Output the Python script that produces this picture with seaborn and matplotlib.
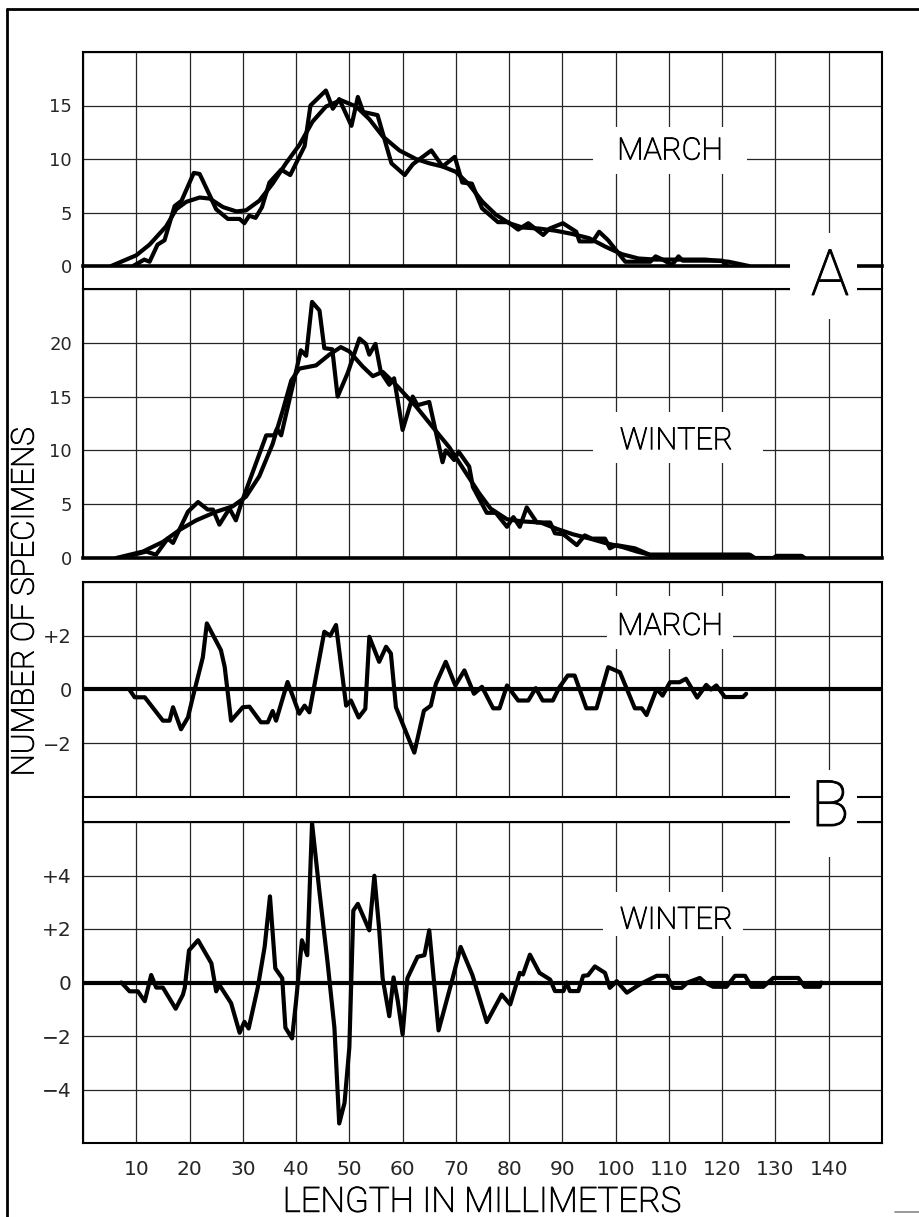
import numpy as np
import matplotlib
matplotlib.use("Agg")
import matplotlib.pyplot as plt
import matplotlib.patheffects as pe
from matplotlib.patches import Rectangle
from matplotlib.lines import Line2D
import seaborn as sns

# ---------------- data ----------------
march_raw_x = [9.4, 11.5, 12.5, 14.0, 15.3, 17.2, 18.5, 20.8, 21.9, 23.8, 25.0, 27.2, 29.4, 30.3, 31.2,
               32.4, 33.6, 35.0, 37.2, 38.9, 41.6, 42.7, 45.6, 46.9, 48.1, 50.4, 51.6, 52.6, 55.3, 57.9,
               60.4, 61.9, 63.5, 65.4, 67.5, 69.8, 71.2, 73.0, 74.9, 77.9, 79.8, 81.7, 83.6, 86.4, 87.6,
               90.1, 92.6, 93.2, 95.7, 96.9, 98.6, 101.8, 106.5, 107.5, 108.8, 110.6, 111.8, 112.6, 120.0, 121.0]
march_raw_y = [0.0, 0.6, 0.4, 2.0, 2.4, 5.6, 6.1, 8.7, 8.6, 6.6, 5.3, 4.4, 4.4, 4.0, 4.7,
               4.5, 5.5, 7.8, 9.0, 8.5, 11.2, 15.0, 16.4, 14.7, 15.6, 13.1, 15.8, 14.4, 14.1, 9.6,
               8.5, 9.5, 10.1, 10.8, 9.3, 10.2, 7.8, 7.7, 5.4, 4.1, 4.1, 3.4, 4.0, 2.9, 3.5,
               4.0, 3.2, 2.3, 2.3, 3.2, 2.4, 0.4, 0.4, 0.9, 0.6, 0.1, 0.9, 0.5, 0.5, 0.0]

march_fit_x = [5.3, 10.0, 12.5, 15.6, 17.5, 19.4, 21.9, 23.8, 26.3, 28.8, 30.6, 33.1, 35.6, 38.1, 40.6,
               43.1, 45.6, 48.4, 51.3, 53.8, 56.3, 59.4, 62.5, 65.0, 67.5, 70.0, 72.5, 75.0, 77.5, 80.0,
               82.5, 85.6, 88.7, 91.8, 95.0, 98.1, 101.2, 104.3, 107.5, 110.6, 116.8, 121.2, 125.0]
march_fit_y = [0.0, 1.0, 2.0, 3.7, 5.3, 6.0, 6.4, 6.3, 5.5, 5.1, 5.2, 6.1, 7.7, 9.6, 11.3,
               13.5, 14.9, 15.5, 14.9, 13.7, 12.1, 10.8, 10.0, 9.6, 9.3, 8.8, 7.6, 6.0, 4.8, 4.0,
               3.6, 3.5, 3.3, 3.0, 2.6, 1.8, 1.1, 0.7, 0.6, 0.6, 0.6, 0.4, 0.0]

winter_raw_x = [7.0, 11.9, 13.7, 15.9, 16.9, 19.7, 21.6, 23.4, 24.4, 25.6, 27.5, 28.7, 29.8, 34.4, 35.9,
                36.4, 37.2, 39.7, 40.9, 41.9, 43.0, 44.4, 45.3, 46.8, 47.8, 49.7, 51.9, 53.1, 53.75, 54.9,
                55.9, 57.5, 58.4, 60.0, 61.9, 62.8, 65.0, 67.5, 68.1, 69.7, 70.5, 72.5, 73.2, 75.8, 77.5,
                79.6, 80.8, 82.0, 83.3, 85.2, 87.7, 88.6, 90.2, 92.7, 94.2, 95.5, 98.0, 98.9, 100.1, 103.6,
                106.4, 125.2, 126.1, 129.6, 130.2, 134.9, 135.5]
winter_raw_y = [0.0, 0.6, 0.3, 1.8, 1.4, 4.3, 5.2, 4.5, 4.5, 3.1, 4.6, 3.5, 5.2, 11.4, 11.4,
                12.0, 11.4, 16.7, 19.3, 18.8, 23.8, 23.0, 19.5, 19.4, 15.0, 17.2, 20.4, 19.9, 18.9, 19.9,
                17.3, 16.1, 16.7, 11.9, 15.0, 14.2, 14.5, 8.9, 10.0, 9.1, 9.9, 8.5, 6.6, 4.2, 4.2,
                2.9, 3.8, 2.9, 4.7, 3.3, 3.3, 2.3, 2.2, 1.2, 2.1, 1.8, 1.8, 0.9, 1.2, 0.9,
                0.3, 0.3, 0.0, 0.0, 0.2, 0.2, 0.0]

winter_fit_x = [6.25, 11.25, 15.0, 18.1, 21.25, 25.0, 28.1, 30.6, 33.1, 35.6, 37.5, 39.1, 40.6, 43.75, 46.25,
                48.4, 50.0, 52.5, 54.4, 56.25, 58.75, 62.5, 65.6, 68.75, 71.9, 74.4, 76.5, 79.6, 82.5, 85.9,
                89.0, 92.0, 95.2, 98.0, 101.4, 104.0, 106.4, 125.0, 126.0]
winter_fit_y = [0.0, 0.6, 1.5, 2.6, 3.5, 4.3, 4.8, 5.7, 7.6, 10.6, 13.7, 16.5, 17.6, 17.9, 18.9,
                19.6, 19.2, 17.8, 16.9, 17.3, 16.1, 14.1, 12.2, 10.3, 7.9, 6.0, 4.6, 3.6, 3.4, 3.3,
                2.7, 2.2, 1.8, 1.4, 1.0, 0.6, 0.3, 0.3, 0.0]

march_dev_x = [8.7, 9.7, 11.6, 15.0, 16.25, 16.9, 18.4, 19.7, 20.6, 22.5, 23.25, 25.9, 26.6, 27.8, 30.0,
               31.25, 33.4, 34.7, 35.6, 36.25, 38.4, 40.6, 41.6, 42.5, 45.3, 46.4, 47.5, 49.4, 50.3, 51.75,
               53.0, 53.75, 55.6, 56.9, 57.8, 58.75, 62.2, 64.0, 65.3, 66.25, 68.1, 69.9, 71.6, 73.4, 74.9,
               77.0, 78.2, 79.6, 81.7, 83.6, 85.0, 86.3, 88.2, 89.4, 91.0, 92.3, 94.5, 96.4, 98.6, 100.8,
               103.6, 104.9, 105.8, 107.7, 108.8, 110.2, 112.0, 113.2, 115.3, 117.0, 117.9, 118.9, 120.5, 123.9, 124.5]
march_dev_y = [0.0, -0.29, -0.29, -1.16, -1.16, -0.66, -1.48, -1.04, -0.3, 1.2, 2.46, 1.46, 0.84, -1.16, -0.66,
               -0.64, -1.22, -1.22, -0.8, -1.16, 0.28, -0.9, -0.6, -0.85, 2.15, 2.0, 2.4, -0.6, -0.41, -1.04,
               -0.72, 1.96, 1.03, 1.59, 1.34, -0.66, -2.35, -0.79, -0.6, 0.21, 1.03, 0.15, 0.71, -0.16, 0.1,
               -0.7, -0.7, 0.15, -0.41, -0.41, 0.05, -0.41, -0.41, 0.07, 0.52, 0.52, -0.7, -0.7, 0.83, 0.64,
               -0.7, -0.7, -0.95, 0.02, -0.23, 0.27, 0.27, 0.4, -0.3, 0.17, 0.0, 0.15, -0.28, -0.28, -0.16]

winter_dev_x = [7.2, 8.75, 10.3, 11.6, 12.8, 13.75, 15.0, 17.4, 18.75, 19.1, 19.9, 21.6, 24.1, 25.0, 25.6,
                27.8, 29.4, 30.3, 31.1, 32.8, 34.1, 35.1, 36.1, 37.4, 38.0, 39.25, 40.0, 41.1, 42.1, 43.0,
                44.4, 45.9, 47.2, 48.1, 49.1, 50.0, 50.75, 51.6, 53.75, 54.7, 55.6, 56.25, 57.5, 58.3, 59.1,
                60.0, 60.9, 62.8, 64.1, 65.0, 66.75, 69.4, 70.9, 73.1, 75.8, 78.6, 80.2, 82.0, 82.6, 83.9,
                85.7, 87.7, 88.6, 90.2, 90.8, 91.4, 93.0, 93.9, 94.8, 96.1, 98.0, 98.9, 100.2, 102.1, 104.6,
                107.7, 109.6, 110.8, 112.4, 113.5, 115.8, 116.8, 118.3, 120.8, 122.4, 124.3, 125.5, 127.7, 129.6, 134.3,
                135.5, 138.3, 138.6]
winter_dev_y = [0.0, -0.33, -0.33, -0.7, 0.28, -0.19, -0.19, -0.98, -0.46, -0.2, 1.2, 1.58, 0.72, -0.33, -0.09,
                -0.77, -1.88, -1.47, -1.72, -0.2, 1.33, 3.22, 0.53, 0.16, -1.69, -2.09, -0.7, 1.58, 1.02, 5.96,
                3.37, 0.78, -1.69, -5.27, -4.5, -2.43, 2.69, 2.94, 1.95, 3.99, 2.0, 0.16, -1.26, 0.19, -0.7,
                -1.94, 0.16, 0.96, 1.02, 1.95, -1.79, 0.16, 1.33, 0.28, -1.48, -0.45, -0.82, 0.36, 0.3, 1.04,
                0.36, 0.11, -0.32, -0.32, 0.0, -0.32, -0.32, 0.25, 0.27, 0.6, 0.36, -0.2, 0.05, -0.38, -0.06,
                0.25, 0.25, -0.2, -0.2, 0.0, 0.17, 0.0, -0.16, -0.16, 0.25, 0.25, -0.16, -0.16, 0.17, 0.17,
                -0.16, -0.16, 0.0]

x_ticks = list(range(0, 151, 10))
x_tick_labels = [""] + [str(v) for v in range(10, 141, 10)] + [""]
a_ticks_march = [0, 5, 10, 15, 20]
a_labels_march = ["0", "5", "10", "15", ""]
a_ticks_winter = [0, 5, 10, 15, 20, 25]
a_labels_winter = ["0", "5", "10", "15", "20", ""]
b_ticks_march = [-4, -2, 0, 2, 4]
b_labels_march = ["", "\u22122", "0", "+2", ""]
b_ticks_winter = [-6, -4, -2, 0, 2, 4, 6]
b_labels_winter = ["", "\u22124", "\u22122", "0", "+2", "+4", ""]

# ---------------- style ----------------
sns.set_style("white")
plt.rcParams["font.family"] = ["DejaVu Sans"]

W, H = 919, 1217
fig = plt.figure(figsize=(W / 100, H / 100), dpi=100)
fig.patch.set_facecolor("white")

def fx(px):
    return px / W

def fy(py):
    return 1 - py / H

LEFT, RIGHT = 83, 882

def make_ax(top, bottom):
    return fig.add_axes([fx(LEFT), fy(bottom), fx(RIGHT) - fx(LEFT), fy(top) - fy(bottom)])

ax1 = make_ax(52, 266)
ax2 = make_ax(289, 558)
ax3 = make_ax(582, 797)
ax4 = make_ax(822, 1143)

LW = 3.0
LABEL_FONT = ["Roboto", "DejaVu Sans"]
INK = [pe.withStroke(linewidth=0.7, foreground="black")]

def style_ax(ax, yticks, ylabels, ysize, xlabels=None):
    ax.set_xlim(0, 150)
    ax.set_ylim(yticks[0], yticks[-1])
    ax.set_xticks(x_ticks)
    ax.set_yticks(yticks)
    ax.set_yticklabels(ylabels)
    if xlabels is None:
        ax.set_xticklabels([])
    else:
        ax.set_xticklabels(xlabels)
    ax.tick_params(axis="both", length=0)
    ax.tick_params(axis="y", pad=8, labelsize=ysize)
    ax.tick_params(axis="x", pad=12, labelsize=14.5)
    ax.set_axisbelow(True)
    ax.grid(True, color="#262626", linewidth=0.9)
    for s in ax.spines.values():
        s.set_color("black")
        s.set_linewidth(1.5)
    ax.set_xlabel("")
    ax.set_ylabel("")

def label_box(ax, text, tx, ty, x0, x1, y0, y1):
    ax.add_patch(Rectangle((x0, y0), x1 - x0, y1 - y0, facecolor="white",
                           edgecolor="none", zorder=2.5))
    ax.text(tx, ty, text, ha="center", va="center", fontsize=22,
            family=LABEL_FONT, weight="light", color="black", zorder=3,
            path_effects=INK)

# panel A march
sns.lineplot(x=march_raw_x, y=march_raw_y, ax=ax1, color="black", linewidth=LW,
             estimator=None, sort=False)
sns.lineplot(x=march_fit_x, y=march_fit_y, ax=ax1, color="black", linewidth=LW,
             estimator=None, sort=False)
style_ax(ax1, a_ticks_march, a_labels_march, 13)
ax1.spines["bottom"].set_linewidth(2.6)
label_box(ax1, "MARCH", 110.2, 10.75, 95.7, 124.6, 8.6, 13.0)

# panel A winter
sns.lineplot(x=winter_raw_x, y=winter_raw_y, ax=ax2, color="black", linewidth=LW,
             estimator=None, sort=False)
sns.lineplot(x=winter_fit_x, y=winter_fit_y, ax=ax2, color="black", linewidth=LW,
             estimator=None, sort=False)
style_ax(ax2, a_ticks_winter, a_labels_winter, 13)
ax2.spines["bottom"].set_linewidth(2.6)
label_box(ax2, "WINTER", 111.4, 10.9, 95.7, 127.7, 8.83, 13.57)

# panel B march
ax3.axhline(0, color="black", linewidth=3.0, zorder=2)
sns.lineplot(x=march_dev_x, y=march_dev_y, ax=ax3, color="black", linewidth=LW,
             estimator=None, sort=False)
style_ax(ax3, b_ticks_march, b_labels_march, 14)
label_box(ax3, "MARCH", 110.2, 2.35, 98.4, 122.0, 1.52, 3.48)

# panel B winter
ax4.axhline(0, color="black", linewidth=3.0, zorder=2)
sns.lineplot(x=winter_dev_x, y=winter_dev_y, ax=ax4, color="black", linewidth=LW,
             estimator=None, sort=False)
style_ax(ax4, b_ticks_winter, b_labels_winter, 14.5, x_tick_labels)
label_box(ax4, "WINTER", 111.4, 2.33, 97.6, 123.9, 1.72, 3.4)

# strips joining the paired panels, with the big letters
for (y0, y1) in [(266, 289), (797, 822)]:
    for xx in (LEFT, RIGHT):
        fig.add_artist(Line2D([fx(xx), fx(xx)], [fy(y0), fy(y1)], color="black",
                              linewidth=1.5, zorder=1))

for letter, cy, by0, by1 in [("A", 277, 233, 319), ("B", 808, 770, 857)]:
    fig.add_artist(Rectangle((fx(790), fy(by1)), fx(857) - fx(790), fy(by0) - fy(by1),
                             facecolor="white", edgecolor="none", zorder=2,
                             transform=fig.transFigure))
    fig.text(fx(830), fy(cy), letter, ha="center", va="center", fontsize=46,
             family=LABEL_FONT, weight="light", color="black", zorder=3,
             path_effects=INK)

# axis titles
fig.text(fx(482), fy(1202), "LENGTH IN MILLIMETERS", ha="center", va="center",
         fontsize=25, family=LABEL_FONT, weight="light", color="black",
         path_effects=INK)
fig.text(fx(25), fy(602), "NUMBER OF SPECIMENS", ha="center", va="center",
         rotation=90, fontsize=22.5, family=LABEL_FONT, weight="light", color="black",
         path_effects=INK)

# outer frame
fig.add_artist(Line2D([fx(7), fx(7)], [fy(9), 0], color="black", linewidth=2, zorder=1))
fig.add_artist(Line2D([fx(7), 1], [fy(9), fy(9)], color="black", linewidth=2, zorder=1))
fig.add_artist(Line2D([fx(895), 1], [fy(1212), fy(1212)], color="#888888", linewidth=1.2, zorder=1))

fig.savefig("out.png", dpi=100, facecolor="white")
